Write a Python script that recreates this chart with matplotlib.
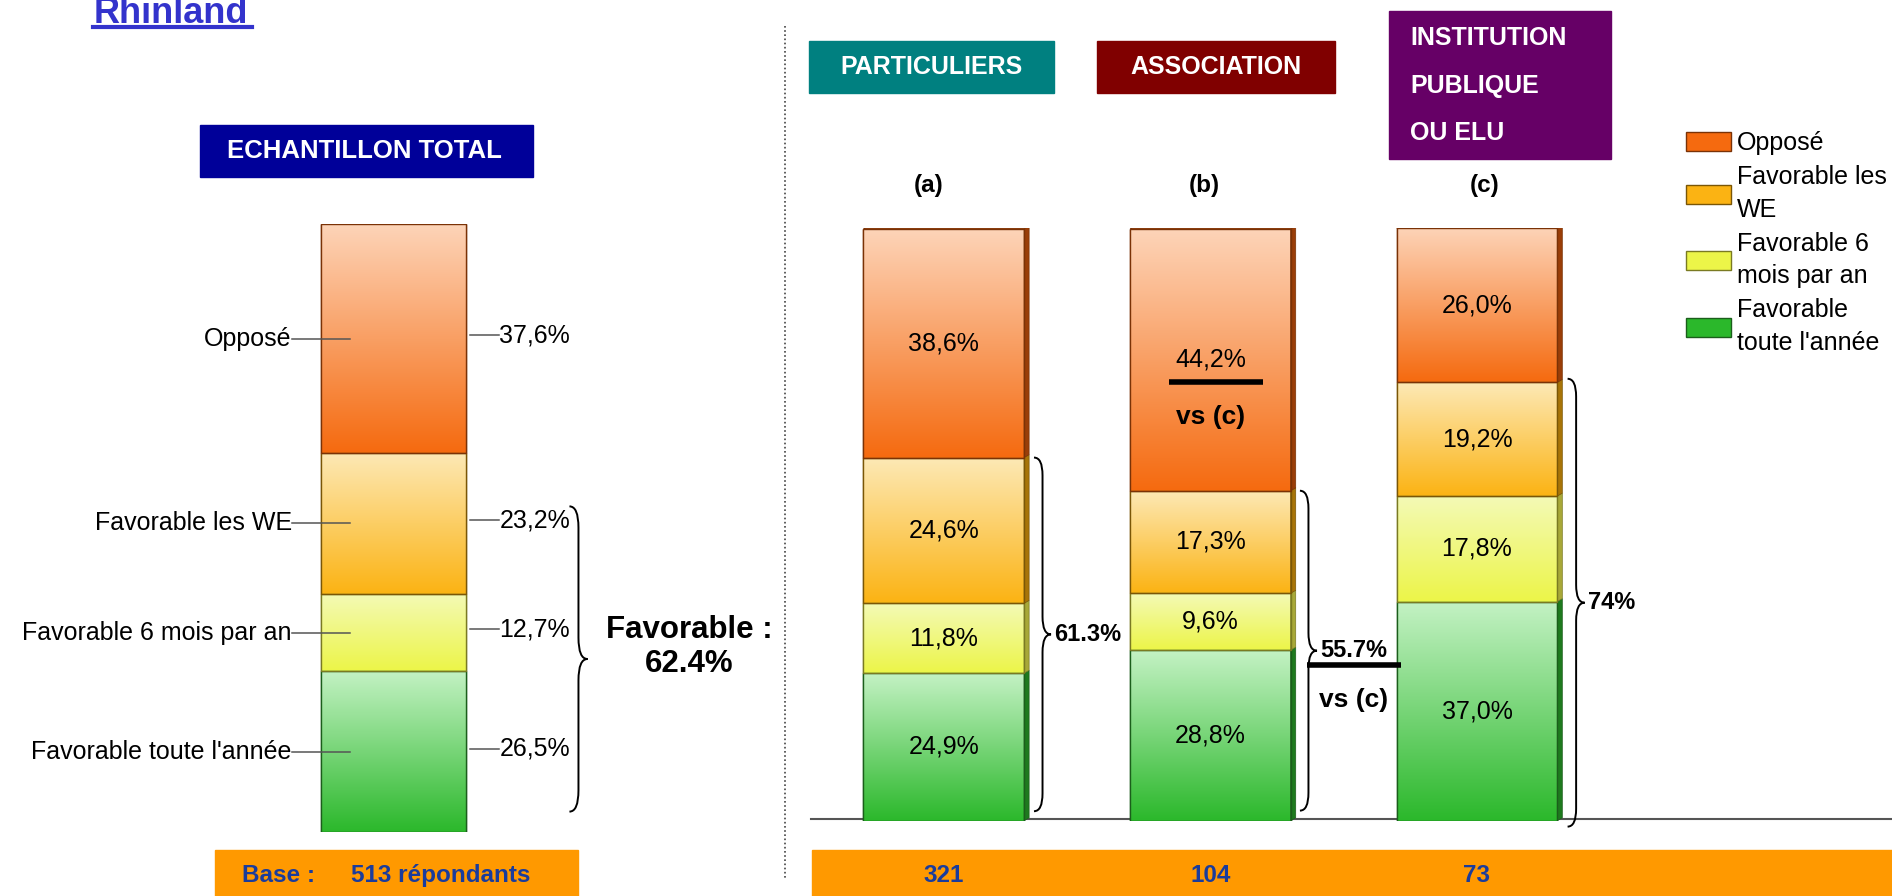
import numpy as np
import matplotlib
matplotlib.use("Agg")
import matplotlib.pyplot as plt
from matplotlib.colors import LinearSegmentedColormap
from matplotlib.patches import Rectangle, Polygon, PathPatch
from matplotlib.path import Path

plt.rcParams['font.family'] = ['Liberation Sans', 'DejaVu Sans']

# --- data -----------------------------------------------------------------
# stacking order: bottom -> top
categories = ["Favorable toute l'année", "Favorable 6 mois par an", "Favorable les WE", "Opposé"]
legend_labels = ["Favorable\ntoute l'année", "Favorable 6\nmois par an", "Favorable les\nWE", "Opposé"]
total_values = [26.5, 12.7, 23.2, 37.6]
total_base = 513

groups = ["PARTICULIERS", "ASSOCIATION", "INSTITUTION\nPUBLIQUE\nOU ELU"]
group_letters = ["(a)", "(b)", "(c)"]
toute_annee = [24.9, 28.8, 37.0]
six_mois = [11.8, 9.6, 17.8]
les_we = [24.6, 17.3, 19.2]
oppose = [38.6, 44.2, 26.0]
group_bases = [321, 104, 73]

# --- styles ---------------------------------------------------------------
base_colors = ['#2BB82B', '#ECF548', '#FBB313', '#F56A0F']
top_colors = ['#C4F2C4', '#F4FAB6', '#FDE9B6', '#FDD4B8']
edge_colors = ['#1B5E1B', '#7A7A22', '#7A5606', '#7A3206']
side_colors = ['#1E7A1E', '#A8A838', '#A87408', '#9A3E08']
navy_text = '#1A3C9C'
W, H = 1892, 896


def pct(v):
    return f"{v:.1f}".replace('.', ',') + '%'


def fav(v):
    return f"{round(v, 1):g}%"


def draw_stack(ax, x, series, width, depth=None):
    bottom = np.zeros(len(x))
    containers = []
    grad = np.linspace(0, 1, 256).reshape(-1, 1)
    for i, vals in enumerate(series):
        bars = ax.bar(x, vals, width, bottom=bottom, color=base_colors[i],
                      edgecolor=edge_colors[i], linewidth=1.0, zorder=2,
                      label=legend_labels[i])
        cmap = LinearSegmentedColormap.from_list('g%d' % i, [base_colors[i], top_colors[i]])
        for p in bars:
            x0, y0, w, h = p.get_x(), p.get_y(), p.get_width(), p.get_height()
            im = ax.imshow(grad, extent=[x0, x0 + w, y0, y0 + h], origin='lower',
                           cmap=cmap, aspect='auto', zorder=2.2, interpolation='bilinear')
            im.set_clip_path(p)
            ax.add_patch(Rectangle((x0, y0), w, h, fill=False,
                                   edgecolor=edge_colors[i], lw=1.0, zorder=2.4))
            if depth is not None:
                dx, dy = depth
                x1, y1 = x0 + w, y0 + h
                ax.add_patch(Polygon([(x1, y0), (x1 + dx, y0 + dy), (x1 + dx, y1 + dy), (x1, y1)],
                                     closed=True, facecolor=side_colors[i],
                                     edgecolor=edge_colors[i], lw=0.5, zorder=2.3))
                if i == len(series) - 1:
                    ax.add_patch(Polygon([(x0, y1), (x0 + dx, y1 + dy), (x1 + dx, y1 + dy), (x1, y1)],
                                         closed=True, facecolor=side_colors[i],
                                         edgecolor=edge_colors[i], lw=0.5, zorder=2.3))
        containers.append(bars)
        bottom = bottom + np.array(vals)
    return containers


def brace(ax, x, y0, y1, w, r, lw=1.4):
    ym = (y0 + y1) / 2
    xm = x + w * 0.5
    verts = [(x, y0), (xm, y0), (xm, y0 + r),
             (xm, ym - r), (xm, ym), (x + w, ym),
             (xm, ym), (xm, ym + r),
             (xm, y1 - r), (xm, y1), (x, y1)]
    codes = [Path.MOVETO, Path.CURVE3, Path.CURVE3, Path.LINETO,
             Path.CURVE3, Path.CURVE3, Path.CURVE3, Path.CURVE3,
             Path.LINETO, Path.CURVE3, Path.CURVE3]
    ax.add_patch(PathPatch(Path(verts, codes), fill=False, edgecolor='black',
                           lw=lw, zorder=3, clip_on=False))


fig = plt.figure(figsize=(W / 100, H / 100), dpi=100)

# background layer in pixel units (headers, base strips, separators)
bg = fig.add_axes([0, 0, 1, 1])
bg.set_xlim(0, W)
bg.set_ylim(H, 0)
bg.axis('off')

bg.text(94, 22.7, "Rhinland", fontsize=26, fontweight='bold', color='#3333CC', va='baseline')
bg.plot([93, 252], [27, 27], color='#3333CC', lw=3)

bg.plot([785, 785], [26, 880], color='#444444', lw=1.2, ls=(0, (1, 1.5)))

bg.add_patch(Rectangle((200, 125), 333, 52, color='#000099'))
bg.text(364, 151, "ECHANTILLON TOTAL", color='white', fontsize=18.5, fontweight='bold',
        ha='center', va='center')

header_boxes = [(809, 41, 245, 52, '#008080'), (1097, 41, 238, 52, '#800000'),
                (1389, 11, 222, 148, '#660066')]
for (bx, by, bw, bh, bc), name in zip(header_boxes, groups):
    bg.add_patch(Rectangle((bx, by), bw, bh, color=bc))
    lines = name.split('\n')
    if len(lines) == 1:
        bg.text(bx + bw / 2, by + bh / 2, name, color='white', fontsize=18, fontweight='bold',
                ha='center', va='center')
    else:
        for j, ln in enumerate(lines):
            bg.text(1410, 37.7 + j * 47.8, ln, color='white', fontsize=18, fontweight='bold',
                    ha='left', va='center')

bg.add_patch(Rectangle((215, 850), 363, 46, color='#FF9900'))
bg.text(242, 882, "Base :", color=navy_text, fontsize=17.5, fontweight='bold', va='baseline')
bg.text(351, 882, f"{total_base} répondants", color=navy_text, fontsize=17.5,
        fontweight='bold', va='baseline')
bg.add_patch(Rectangle((812, 850), W - 812, 46, color='#FF9900'))

# --- left panel: total sample ----------------------------------------------
ax_l = fig.add_axes([0, (H - 832.3) / H, 784 / W, 608.1 / H])
ax_l.patch.set_visible(False)
draw_stack(ax_l, [0], [[v] for v in total_values], 1.0)
ax_l.set_xlim(-393.4 / 144.3, (784 - 393.4) / 144.3)
ax_l.set_ylim(0, 100)
ax_l.axis('off')

cum = np.cumsum(total_values)
for name, v, c in zip(categories, total_values, cum):
    yc = c - v / 2
    ax_l.plot([-0.70, -0.30], [yc, yc], color='#555555', lw=1.1, zorder=3)
    ax_l.text(-0.705, yc, name, ha='right', va='center', fontsize=18)
    ax_l.plot([0.53, 0.73], [yc + 0.5, yc + 0.5], color='#555555', lw=1.1, zorder=3)
    ax_l.text(0.735, yc + 0.5, pct(v), ha='left', va='center', fontsize=18)

fav_total = sum(total_values[:3])
brace(ax_l, 1.22, 3.4, 53.6, 0.125, 3.5)
ax_l.text(2.05, 30.5, f"Favorable :\n{fav(fav_total)}", ha='center', va='center',
          fontsize=22.5, fontweight='bold', linespacing=1.15)

# --- right panel: by respondent type ---------------------------------------
ax_r = fig.add_axes([784 / W, (H - 820.7) / H, (W - 784) / W, 592.4 / H])
ax_r.patch.set_visible(False)
xg = np.arange(len(groups))
series = [toute_annee, six_mois, les_we, oppose]
containers = draw_stack(ax_r, xg, series, 0.6024, depth=(0.019, 0.5))
ax_r.set_xlim((784 - 943.75) / 266.6, (W - 943.75) / 266.6)
ax_r.set_ylim(0, 100)
ax_r.axis('off')
ax_r.plot([(811 - 943.75) / 266.6, (W - 943.75) / 266.6], [0.35, 0.35],
          color='#555555', lw=1.5, zorder=1)

bottom = np.zeros(len(groups))
for vals in series:
    for xi, b, v in zip(xg, bottom, vals):
        ax_r.text(xi, b + v / 2, pct(v), ha='center', va='center', fontsize=18, zorder=4)
    bottom = bottom + np.array(vals)

letter_x = [-0.055, 0.976, 2.03]
for lx, lt in zip(letter_x, group_letters):
    ax_r.text(lx, 107.3, lt, ha='center', va='center', fontsize=17.5, fontweight='bold')
for xi, n in zip(xg, group_bases):
    ax_r.text(xi, -9.3, str(n), ha='center', va='center', fontsize=17.5,
              fontweight='bold', color=navy_text)

fav_groups = [a + b + c for a, b, c in zip(toute_annee, six_mois, les_we)]
brace_x = [0.3385, 1.336, 2.34]
brace_lo = [1.6, 1.7, -1.0]
brace_hi = [fav_groups[0], fav_groups[1], fav_groups[2] + 0.6]
for bx, lo, hi, fv in zip(brace_x, brace_lo, brace_hi, fav_groups):
    brace(ax_r, bx, lo, hi, 0.064, 3.0)
    ax_r.text(bx + 0.076, (lo + hi) / 2, fav(fv), ha='left', va='center',
              fontsize=17, fontweight='bold', zorder=4)

# significance marks vs (c)
ax_r.plot([0.8447, 1.1972], [74.0, 74.0], color='black', lw=4, solid_capstyle='butt', zorder=4)
ax_r.text(1.0, 68.2, "vs (c)", ha='center', va='center', fontsize=19, fontweight='bold', zorder=4)
ax_r.plot([1.3643, 1.7146], [26.3, 26.3], color='black', lw=4, solid_capstyle='butt', zorder=4)
ax_r.text(1.5366, 20.3, "vs (c)", ha='center', va='center', fontsize=19, fontweight='bold', zorder=4)

leg = fig.legend(handles=containers[::-1], labels=legend_labels[::-1], loc='upper left',
                 bbox_to_anchor=(1686 / W, 1 - 131 / H), frameon=False, fontsize=18,
                 handlelength=1.8, handleheight=0.8, handletextpad=0.25, labelspacing=0.4,
                 borderpad=0, borderaxespad=0)
for t in leg.get_texts():
    t.set_linespacing(1.45)

fig.savefig('out.png', dpi=100, facecolor='white')
